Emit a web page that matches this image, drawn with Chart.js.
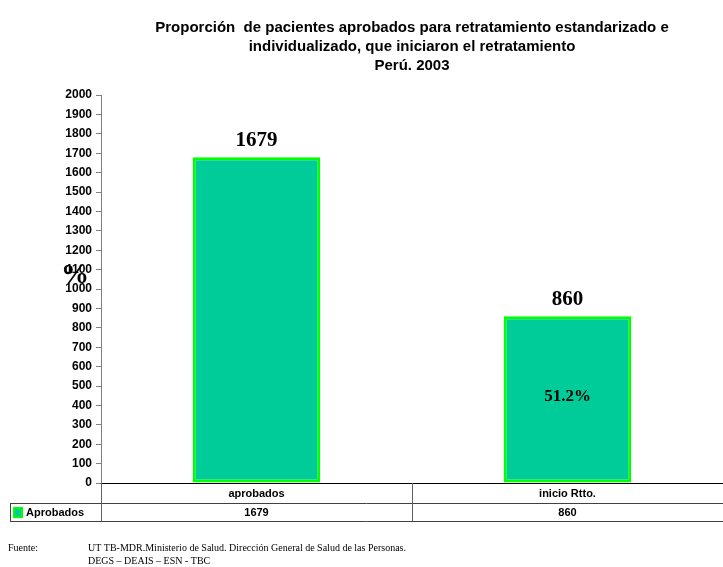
<!DOCTYPE html>
<html>
<head>
<meta charset="utf-8">
<script src="https://cdn.jsdelivr.net/npm/chart.js@4/dist/chart.umd.min.js"></script>
<style>
html,body{margin:0;padding:0;background:#fff;}
#wrap{width:723px;height:567px;position:relative;}
</style>
</head>
<body>
<div id="wrap"><canvas id="c" width="723" height="567"></canvas></div>
<script>
const categories = ['aprobados', 'inicio Rtto.'];
const seriesName = 'Aprobados';
const values = [1679, 860];
const innerLabels = ['', '51.2%'];
const titleLines = [
  'Proporción  de pacientes aprobados para retratamiento estandarizado e',
  'individualizado, que iniciaron el retratamiento',
  'Perú. 2003'
];
const axisTitle = '%';
const sourceLines = [
  ['Fuente:', 'UT TB-MDR.Ministerio de Salud. Dirección General de Salud de las Personas.'],
  ['', 'DEGS – DEAIS – ESN - TBC']
];

const SANS = '"Liberation Sans", Arial, sans-serif';
const SERIF = '"Liberation Serif", "Times New Roman", serif';
const FILL = '#00CC99';
const EDGE = '#00FF00';

const extras = {
  id: 'extras',
  afterDraw(chart) {
    const ctx = chart.ctx;
    const a = chart.chartArea;
    const xs = chart.scales.x;
    const meta = chart.getDatasetMeta(0);
    ctx.save();
    // title
    ctx.fillStyle = '#000';
    ctx.font = 'bold 15px ' + SANS;
    ctx.textAlign = 'center';
    ctx.textBaseline = 'middle';
    const tc = (a.left + a.right) / 2;
    titleLines.forEach((t, i) => ctx.fillText(t, tc, 28 + i * 19));

    // value labels
    meta.data.forEach((bar, i) => {
      ctx.font = 'bold 21px ' + SERIF;
      ctx.textAlign = 'center';
      ctx.textBaseline = 'middle';
      ctx.fillText(String(values[i]), bar.x, bar.y - 17);
      if (innerLabels[i]) {
        ctx.font = 'bold 17px ' + SERIF;
        ctx.fillText(innerLabels[i], bar.x, 397);
      }
    });

    // axis title
    ctx.font = 'bold 28px ' + SERIF;
    ctx.textAlign = 'center';
    ctx.textBaseline = 'middle';
    ctx.fillText(axisTitle, 75, 276);

    // data table
    const r0 = a.bottom, r1 = a.bottom + 20, r2 = a.bottom + 38;
    ctx.lineWidth = 1;
    ctx.strokeStyle = '#000';
    ctx.beginPath(); ctx.moveTo(a.left, r0 + 0.5); ctx.lineTo(a.right, r0 + 0.5); ctx.stroke();
    ctx.strokeStyle = '#404040';
    ctx.beginPath(); ctx.moveTo(10, r1 + 0.5); ctx.lineTo(a.right, r1 + 0.5); ctx.stroke();
    ctx.beginPath(); ctx.moveTo(10, r2 + 0.5); ctx.lineTo(a.right, r2 + 0.5); ctx.stroke();
    ctx.beginPath(); ctx.moveTo(10.5, r1); ctx.lineTo(10.5, r2); ctx.stroke();
    ctx.strokeStyle = '#606060';
    ctx.beginPath(); ctx.moveTo(a.left + 0.5, r0); ctx.lineTo(a.left + 0.5, r2); ctx.stroke();
    for (let i = 1; i < categories.length; i++) {
      const xb = Math.round((xs.getPixelForValue(i - 1) + xs.getPixelForValue(i)) / 2) + 0.5;
      ctx.beginPath(); ctx.moveTo(xb, r0); ctx.lineTo(xb, r2); ctx.stroke();
    }
    ctx.fillStyle = '#000';
    ctx.font = 'bold 11px ' + SANS;
    ctx.textAlign = 'center';
    ctx.textBaseline = 'middle';
    categories.forEach((c, i) => {
      const cx = xs.getPixelForValue(i);
      ctx.fillText(c, cx, (r0 + r1) / 2 + 1);
      ctx.fillText(String(values[i]), cx, (r1 + r2) / 2 + 1);
    });
    // legend key
    ctx.fillStyle = EDGE;
    ctx.fillRect(13, r1 + 4, 10, 11);
    ctx.fillStyle = FILL;
    ctx.fillRect(15, r1 + 6, 6, 7);
    ctx.fillStyle = '#000';
    ctx.textAlign = 'left';
    ctx.font = 'bold 11px ' + SANS;
    ctx.fillText(seriesName, 26, (r1 + r2) / 2 + 1);

    // source
    ctx.font = '10px ' + SERIF;
    ctx.textBaseline = 'alphabetic';
    sourceLines.forEach((l, i) => {
      ctx.fillText(l[0], 8, 551 + i * 13);
      ctx.fillText(l[1], 88, 551 + i * 13);
    });
    ctx.restore();
  }
};

new Chart(document.getElementById('c'), {
  type: 'bar',
  data: {
    labels: categories,
    datasets: [{
      label: seriesName,
      data: values,
      backgroundColor: FILL,
      borderColor: EDGE,
      borderWidth: 3,
      borderSkipped: false,
      categoryPercentage: 1,
      barPercentage: 0.41
    }]
  },
  options: {
    responsive: false,
    animation: false,
    devicePixelRatio: 1,
    layout: { padding: { left: 0, right: 0, top: 95, bottom: 84 } },
    plugins: { legend: { display: false }, title: { display: false }, tooltip: { enabled: false } },
    scales: {
      x: { display: false, offset: true },
      y: {
        min: 0, max: 2000,
        ticks: { stepSize: 100, color: '#000', padding: 4, font: { family: SANS, size: 12, weight: 'bold' },
                 callback: v => String(v) },
        grid: { drawOnChartArea: false, tickLength: 5, color: '#808080' },
        border: { color: '#808080' },
        afterFit(s) { s.width = 101; }
      }
    }
  },
  plugins: [extras]
});
</script>
</body>
</html>
